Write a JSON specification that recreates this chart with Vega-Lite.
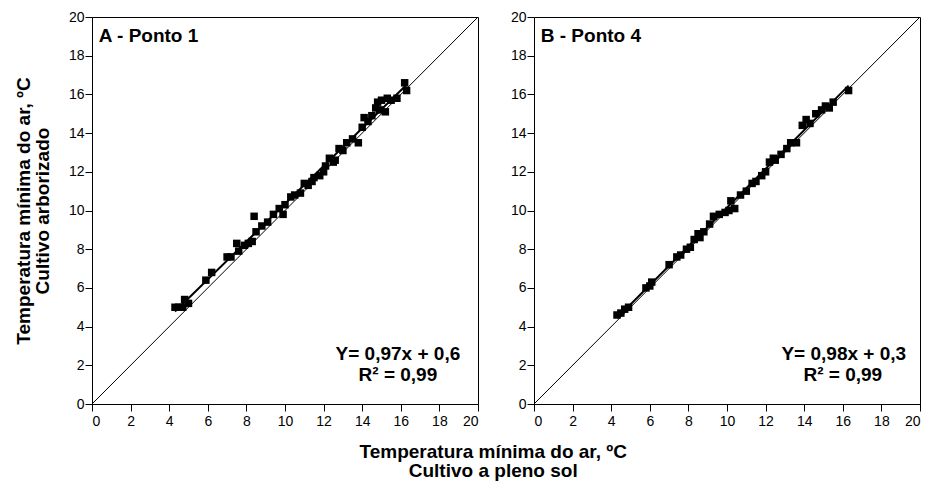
{
  "$schema": "https://vega.github.io/schema/vega-lite/v6.json",
  "padding": {"left": 13, "top": 9, "right": 10, "bottom": 2},
  "bounds": "flush",
  "spacing": 56,
  "background": "white",
  "config": {
    "font": "Liberation Sans",
    "view": {"stroke": "black", "strokeWidth": 1},
    "axis": {
      "grid": false,
      "domainColor": "black",
      "tickColor": "black",
      "tickSize": 7,
      "labelColor": "black",
      "labelFontSize": 14,
      "labelPadding": 1,
      "labelOverlap": false,
      "labelFont": "Liberation Sans",
      "titleFont": "Liberation Sans",
      "titleFontSize": 19,
      "titleFontWeight": "bold",
      "titleColor": "black"
    },
    "axisX": {"labelPadding": 3}
  },
  "title": {
    "text": ["Temperatura mínima do ar, ºC", "Cultivo a pleno sol"],
    "orient": "bottom",
    "anchor": "middle",
    "font": "Liberation Sans",
    "fontSize": 19,
    "fontWeight": "bold",
    "color": "black",
    "lineHeight": 19,
    "offset": 14,
    "dx": 25
  },
  "datasets": {
    "ref": [{"x": 0, "y": 0}, {"x": 20, "y": 20}],
    "a": [
      {"x": 4.3, "y": 5.0}, {"x": 4.5, "y": 5.0}, {"x": 4.7, "y": 5.0}, {"x": 4.8, "y": 5.4}, {"x": 5.0, "y": 5.2},
      {"x": 5.9, "y": 6.4}, {"x": 6.2, "y": 6.8}, {"x": 7.0, "y": 7.6}, {"x": 7.2, "y": 7.6}, {"x": 7.5, "y": 8.3},
      {"x": 7.6, "y": 7.9}, {"x": 7.9, "y": 8.2}, {"x": 8.1, "y": 8.3}, {"x": 8.3, "y": 8.4}, {"x": 8.4, "y": 9.7},
      {"x": 8.5, "y": 8.9}, {"x": 8.8, "y": 9.2}, {"x": 9.1, "y": 9.4}, {"x": 9.4, "y": 9.8}, {"x": 9.7, "y": 10.1},
      {"x": 9.9, "y": 9.8}, {"x": 10.0, "y": 10.3}, {"x": 10.3, "y": 10.7}, {"x": 10.5, "y": 10.8}, {"x": 10.8, "y": 10.9},
      {"x": 11.0, "y": 11.4}, {"x": 11.2, "y": 11.3}, {"x": 11.4, "y": 11.5}, {"x": 11.5, "y": 11.7}, {"x": 11.8, "y": 11.8},
      {"x": 12.0, "y": 12.0}, {"x": 12.1, "y": 12.3}, {"x": 12.3, "y": 12.7}, {"x": 12.5, "y": 12.5}, {"x": 12.6, "y": 12.6},
      {"x": 12.8, "y": 13.2}, {"x": 13.0, "y": 13.1}, {"x": 13.2, "y": 13.5}, {"x": 13.5, "y": 13.7}, {"x": 13.8, "y": 13.5},
      {"x": 14.0, "y": 14.3}, {"x": 14.1, "y": 14.8}, {"x": 14.3, "y": 14.6}, {"x": 14.5, "y": 14.9}, {"x": 14.7, "y": 15.3},
      {"x": 14.8, "y": 15.6}, {"x": 14.9, "y": 15.2}, {"x": 15.0, "y": 15.7}, {"x": 15.2, "y": 15.1}, {"x": 15.3, "y": 15.8},
      {"x": 15.5, "y": 15.7}, {"x": 15.8, "y": 15.8}, {"x": 16.2, "y": 16.6}, {"x": 16.3, "y": 16.2}
    ],
    "b": [
      {"x": 4.3, "y": 4.6}, {"x": 4.5, "y": 4.7}, {"x": 4.7, "y": 4.9}, {"x": 4.9, "y": 5.0}, {"x": 5.8, "y": 6.0},
      {"x": 6.0, "y": 6.1}, {"x": 6.1, "y": 6.3}, {"x": 7.0, "y": 7.2}, {"x": 7.4, "y": 7.6}, {"x": 7.6, "y": 7.7},
      {"x": 7.9, "y": 8.0}, {"x": 8.1, "y": 8.1}, {"x": 8.3, "y": 8.5}, {"x": 8.5, "y": 8.8}, {"x": 8.6, "y": 8.6},
      {"x": 8.8, "y": 8.9}, {"x": 9.1, "y": 9.3}, {"x": 9.3, "y": 9.7}, {"x": 9.6, "y": 9.8}, {"x": 9.9, "y": 9.9},
      {"x": 10.1, "y": 10.0}, {"x": 10.2, "y": 10.5}, {"x": 10.4, "y": 10.1}, {"x": 10.7, "y": 10.8}, {"x": 11.0, "y": 11.0},
      {"x": 11.3, "y": 11.4}, {"x": 11.5, "y": 11.5}, {"x": 11.8, "y": 11.8}, {"x": 12.0, "y": 12.0}, {"x": 12.2, "y": 12.5},
      {"x": 12.4, "y": 12.7}, {"x": 12.5, "y": 12.6}, {"x": 12.8, "y": 12.9}, {"x": 13.1, "y": 13.2}, {"x": 13.3, "y": 13.5},
      {"x": 13.6, "y": 13.5}, {"x": 13.9, "y": 14.4}, {"x": 14.1, "y": 14.7}, {"x": 14.3, "y": 14.5}, {"x": 14.6, "y": 15.0},
      {"x": 14.9, "y": 15.2}, {"x": 15.1, "y": 15.4}, {"x": 15.3, "y": 15.3}, {"x": 15.5, "y": 15.6}, {"x": 16.3, "y": 16.2}
    ],
    "labA": [{"x": 0.35, "y": 19.0, "t": "A - Ponto 1"}],
    "labB": [{"x": 0.35, "y": 19.0, "t": "B - Ponto 4"}],
    "eqA": [{"x": 15.85, "y": 2.56, "t": "Y= 0,97x + 0,6"}, {"x": 15.85, "y": 1.52, "t": "R² = 0,99"}],
    "eqB": [{"x": 16.05, "y": 2.56, "t": "Y= 0,98x + 0,3"}, {"x": 16.0, "y": 1.52, "t": "R² = 0,99"}]
  },
  "hconcat": [
    {
      "width": 386,
      "height": 387,
      "encoding": {
        "x": {"field": "x", "type": "quantitative", "scale": {"domain": [0, 20], "nice": false}, "axis": {"title": null, "values": [0, 2, 4, 6, 8, 10, 12, 14, 16, 18, 20]}},
        "y": {"field": "y", "type": "quantitative", "scale": {"domain": [0, 20], "nice": false}, "axis": {"title": ["Temperatura mínima do ar, ºC", "Cultivo arborizado"], "titlePadding": 16, "titleLineHeight": 19, "values": [0, 2, 4, 6, 8, 10, 12, 14, 16, 18, 20]}}
      },
      "layer": [
        {
          "data": {"name": "ref"},
          "mark": {"type": "line", "color": "black", "strokeWidth": 1}
        },
        {
          "data": {"name": "a"},
          "mark": {"type": "point", "shape": "square", "filled": true, "color": "black", "size": 56, "opacity": 1}
        },
        {
          "data": {"name": "a"},
          "transform": [{"regression": "y", "on": "x"}],
          "mark": {"type": "line", "color": "black", "strokeWidth": 2}
        },
        {
          "data": {"name": "labA"},
          "mark": {"type": "text", "align": "left", "baseline": "middle", "fontSize": 19, "fontWeight": "bold", "font": "Liberation Sans", "color": "black"},
          "encoding": {"text": {"field": "t"}}
        },
        {
          "data": {"name": "eqA"},
          "mark": {"type": "text", "align": "center", "baseline": "middle", "fontSize": 19, "fontWeight": "bold", "font": "Liberation Sans", "color": "black"},
          "encoding": {"text": {"field": "t"}}
        }
      ]
    },
    {
      "width": 386,
      "height": 387,
      "encoding": {
        "x": {"field": "x", "type": "quantitative", "scale": {"domain": [0, 20], "nice": false}, "axis": {"title": null, "values": [0, 2, 4, 6, 8, 10, 12, 14, 16, 18, 20]}},
        "y": {"field": "y", "type": "quantitative", "scale": {"domain": [0, 20], "nice": false}, "axis": {"title": null, "values": [0, 2, 4, 6, 8, 10, 12, 14, 16, 18, 20]}}
      },
      "layer": [
        {
          "data": {"name": "ref"},
          "mark": {"type": "line", "color": "black", "strokeWidth": 1}
        },
        {
          "data": {"name": "b"},
          "mark": {"type": "point", "shape": "square", "filled": true, "color": "black", "size": 56, "opacity": 1}
        },
        {
          "data": {"name": "b"},
          "transform": [{"regression": "y", "on": "x"}],
          "mark": {"type": "line", "color": "black", "strokeWidth": 2}
        },
        {
          "data": {"name": "labB"},
          "mark": {"type": "text", "align": "left", "baseline": "middle", "fontSize": 19, "fontWeight": "bold", "font": "Liberation Sans", "color": "black"},
          "encoding": {"text": {"field": "t"}}
        },
        {
          "data": {"name": "eqB"},
          "mark": {"type": "text", "align": "center", "baseline": "middle", "fontSize": 19, "fontWeight": "bold", "font": "Liberation Sans", "color": "black"},
          "encoding": {"text": {"field": "t"}}
        }
      ]
    }
  ]
}
